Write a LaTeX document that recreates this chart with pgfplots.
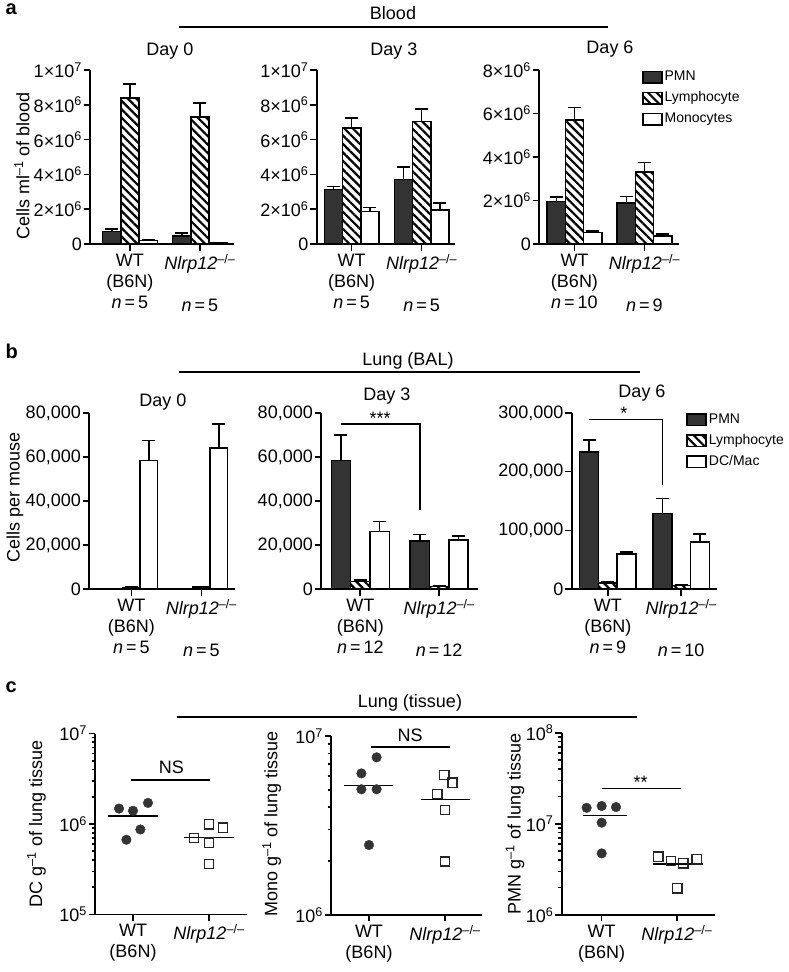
\documentclass[border=0pt]{standalone}
\usepackage{fontspec}
\setmainfont{Liberation Sans}
\usepackage{pgfplots}
\pgfplotsset{compat=1.18}
\usetikzlibrary{patterns.meta}

\newcommand{\fs}{\fontsize{18}{21}\selectfont}
\newcommand{\ko}{\textit{Nlrp12}\textsuperscript{–/–}}
\newcommand{\tx}[2]{#1\texttimes10\textsuperscript{#2}}
\newcommand{\tp}[1]{10\textsuperscript{#1}}

\pgfplotsset{
  gp/.style={
    scale only axis, clip=false, anchor=south west,
    axis x line*=bottom, axis y line*=left,
    axis line style={line width=1.8pt},
    tick align=outside, major tick length=6.5pt, minor tick length=3.5pt,
    tick style={line width=1.6pt, black},
    tick label style={font=\fs},
    yticklabel style={inner sep=1.5pt},
    xticklabel style={align=center},
    scaled ticks=false, xtick={0,1},
  },
  pmn/.style={ybar, bar shift=0pt, bar width=#1, draw=black, line width=1.5pt, fill=black!80},
  lym/.style={ybar, bar shift=0pt, bar width=#1, draw=black, line width=1.5pt,
    pattern={Lines[angle=-45,distance=6pt,line width=2.2pt]}},
  mon/.style={ybar, bar shift=0pt, bar width=#1, draw=black, line width=1.5pt, fill=white},
  eb/.style={error bars/y dir=plus, error bars/y explicit,
    error bars/error bar style={line width=1.5pt, black},
    error bars/error mark options={rotate=90, line width=1.5pt, black, mark size=6.5pt}},
  boxleg/.style={legend image code/.code={\draw[##1] (0pt,-5.8pt) rectangle (19pt,5.8pt);},
    legend style={draw=none, fill=none, anchor=north west, row sep=3.5pt, inner sep=0pt,
      nodes={inner sep=2pt, font=\fontsize{14}{16}\selectfont, text height=10.5pt, text depth=3pt}},
    legend cell align=left},
  wt/.style={only marks, mark=*, mark size=4.8pt, mark options={fill=black!80, draw=black!80}},
  kos/.style={only marks, mark=square, mark size=4.6pt, mark options={line width=1.4pt, draw=black!85, fill=white}},
  mline/.style={black, line width=1.6pt, forget plot},
}

\begin{document}
\begin{tikzpicture}
\useasboundingbox (0pt,0pt) rectangle (788pt,-972pt);

% ---------------- panel a: blood ----------------
\begin{axis}[gp, at={(90pt,-244pt)}, width=144pt, height=174pt,
  xmin=-0.571, xmax=1.486, ymin=0, ymax=1e7,
  ytick={0,2e6,4e6,6e6,8e6,1e7},
  yticklabels={0,\tx{2}{6},\tx{4}{6},\tx{6}{6},\tx{8}{6},\tx{1}{7}},
  xticklabels={WT\\(B6N)\\\textit{n}\,=\,5, \ko\\\strut\\\textit{n}\,=\,5}]
\addplot[pmn=0.26, eb] table[x=x,y=y,y error=e]{
x y e
-0.26 0.71e6 0.16e6
0.74 0.46e6 0.18e6
};
\addplot[lym=0.26, eb] table[x=x,y=y,y error=e]{
x y e
0 8.4e6 0.79e6
1 7.3e6 0.79e6
};
\addplot[mon=0.26, eb] table[x=x,y=y,y error=e]{
x y e
0.26 0.19e6 0.06e6
1.26 0.08e6 0.0
};
\end{axis}

\begin{axis}[gp, at={(316.7pt,-244pt)}, width=138.3pt, height=174pt,
  xmin=-0.5, xmax=1.476, ymin=0, ymax=1e7,
  ytick={0,2e6,4e6,6e6,8e6,1e7},
  yticklabels={0,\tx{2}{6},\tx{4}{6},\tx{6}{6},\tx{8}{6},\tx{1}{7}},
  xticklabels={WT\\(B6N)\\\textit{n}\,=\,5, \ko\\\strut\\\textit{n}\,=\,5}]
\addplot[pmn=0.26, eb] table[x=x,y=y,y error=e]{
x y e
-0.26 3.14e6 0.16e6
0.74 3.71e6 0.71e6
};
\addplot[lym=0.26, eb] table[x=x,y=y,y error=e]{
x y e
0 6.67e6 0.57e6
1 7.05e6 0.72e6
};
\addplot[mon=0.26, eb] table[x=x,y=y,y error=e]{
x y e
0.26 1.87e6 0.23e6
1.26 1.96e6 0.40e6
};
\end{axis}

\begin{axis}[gp, boxleg, at={(539pt,-244pt)}, width=140pt, height=174pt,
  xmin=-0.507, xmax=1.493, ymin=0, ymax=8e6,
  ytick={0,2e6,4e6,6e6,8e6},
  yticklabels={0,\tx{2}{6},\tx{4}{6},\tx{6}{6},\tx{8}{6}},
  xticklabels={WT\\(B6N)\\\textit{n}\,=\,10, \ko\\\strut\\\textit{n}\,=\,9},
  legend style={at={(0.735,1.01)}}]
\addplot[pmn=0.26, eb] table[x=x,y=y,y error=e]{
x y e
-0.26 1.95e6 0.20e6
0.74 1.89e6 0.30e6
};
\addlegendentry{PMN}
\addplot[lym=0.26, eb] table[x=x,y=y,y error=e]{
x y e
0 5.70e6 0.58e6
1 3.32e6 0.43e6
};
\addlegendentry{Lymphocyte}
\addplot[mon=0.26, eb] table[x=x,y=y,y error=e]{
x y e
0.26 0.54e6 0.06e6
1.26 0.375e6 0.075e6
};
\addlegendentry{Monocytes}
\end{axis}

% ---------------- panel b: lung BAL ----------------
\begin{axis}[gp, at={(89pt,-589pt)}, width=146pt, height=176pt,
  xmin=-0.607, xmax=1.479, ymin=0, ymax=80000,
  ytick={0,20000,40000,60000,80000},
  yticklabels={0,{20,000},{40,000},{60,000},{80,000}},
  xticklabels={WT\\(B6N)\\\textit{n}\,=\,5, \ko\\\strut\\\textit{n}\,=\,5}]
\addplot[pmn=0.25, eb] table[x=x,y=y,y error=e]{
x y e
-0.25 300 0
0.75 300 0
};
\addplot[lym=0.25, eb] table[x=x,y=y,y error=e]{
x y e
0 700 100
1 900 200
};
\addplot[mon=0.25, eb] table[x=x,y=y,y error=e]{
x y e
0.25 58400 9200
1.25 64000 11000
};
\end{axis}

\begin{axis}[gp, at={(321pt,-589pt)}, width=157.3pt, height=176pt,
  xmin=-0.498, xmax=1.496, ymin=0, ymax=80000,
  ytick={0,20000,40000,60000,80000},
  yticklabels={0,{20,000},{40,000},{60,000},{80,000}},
  xticklabels={WT\\(B6N)\\\textit{n}\,=\,12, \ko\\\strut\\\textit{n}\,=\,12}]
\addplot[pmn=0.245, eb] table[x=x,y=y,y error=e]{
x y e
-0.245 58500 11500
0.755 21750 3100
};
\addplot[lym=0.245, eb] table[x=x,y=y,y error=e]{
x y e
0 3300 800
1 1100 300
};
\addplot[mon=0.245, eb] table[x=x,y=y,y error=e]{
x y e
0.245 26100 4500
1.245 22200 1900
};
\addplot[mline] coordinates {(-0.245,74900) (0.755,74900) (0.755,35700)};
\node[font=\fs, anchor=base] at (axis cs:0.25,74900) {***};
\end{axis}

\begin{axis}[gp, boxleg, at={(571.7pt,-589pt)}, width=145pt, height=176pt,
  xmin=-0.492, xmax=1.484, ymin=0, ymax=300000,
  ytick={0,100000,200000,300000},
  yticklabels={0,{100,000},{200,000},{300,000}},
  xticklabels={WT\\(B6N)\\\textit{n}\,=\,9, \ko\\\strut\\\textit{n}\,=\,10},
  legend style={at={(0.79,1.012)}}]
\addplot[pmn=0.255, eb] table[x=x,y=y,y error=e]{
x y e
-0.255 233900 20500
0.745 128900 25700
};
\addlegendentry{PMN}
\addplot[lym=0.255, eb] table[x=x,y=y,y error=e]{
x y e
0 10300 1700
1 5700 1700
};
\addlegendentry{Lymphocyte}
\addplot[mon=0.255, eb] table[x=x,y=y,y error=e]{
x y e
0.255 59900 3400
1.255 79900 13700
};
\addlegendentry{DC/Mac}
\addplot[mline] coordinates {(-0.255,288600) (0.745,288600) (0.745,177400)};
\node[font=\fs, anchor=base] at (axis cs:0.22,288600) {*};
\end{axis}

% ---------------- panel c: lung tissue ----------------
\begin{axis}[gp, at={(95pt,-914.5pt)}, width=151.7pt, height=181pt,
  ymode=log, xmin=-0.5, xmax=1.496, ymin=1e5, ymax=1e7,
  ytick={1e5,1e6,1e7}, yticklabels={\tp{5},\tp{6},\tp{7}},
  minor ytick={2e5,3e5,4e5,5e5,6e5,7e5,8e5,9e5,2e6,3e6,4e6,5e6,6e6,7e6,8e6,9e6},
  xticklabels={WT\\(B6N), \ko}]
\addplot[wt] coordinates {(-0.184,1.48e6) (0,1.40e6) (0.197,1.71e6) (0.097,0.87e6) (-0.087,0.67e6)};
\addplot[kos] coordinates {(1.0,0.995e6) (1.184,0.91e6) (0.803,0.70e6) (1.0,0.62e6) (1.0,0.36e6)};
\addplot[mline] coordinates {(-0.33,1.22e6) (0.33,1.22e6)};
\addplot[mline] coordinates {(0.67,0.71e6) (1.33,0.71e6)};
\addplot[mline] coordinates {(-0.02,3.05e6) (1.01,3.05e6)};
\node[font=\fs, anchor=base] at (axis cs:0.505,3.64e6) {NS};
\end{axis}

\begin{axis}[gp, at={(331pt,-915pt)}, width=151pt, height=179pt,
  ymode=log, xmin=-0.5, xmax=1.487, ymin=1e6, ymax=1e7,
  ytick={1e6,1e7}, yticklabels={\tp{6},\tp{7}},
  minor ytick={2e6,3e6,4e6,5e6,6e6,7e6,8e6,9e6},
  xticklabels={WT\\(B6N), \ko}]
\addplot[wt] coordinates {(0.10,7.6e6) (-0.10,6.18e6) (-0.10,5.04e6) (0.10,5.04e6) (0,2.46e6)};
\addplot[kos] coordinates {(0.99,6.05e6) (1.10,5.48e6) (0.90,4.74e6) (1.0,3.86e6) (1.0,1.99e6)};
\addplot[mline] coordinates {(-0.325,5.28e6) (0.32,5.28e6)};
\addplot[mline] coordinates {(0.68,4.42e6) (1.33,4.42e6)};
\addplot[mline] coordinates {(0.03,8.7e6) (1.07,8.7e6)};
\node[font=\fs, anchor=base] at (axis cs:0.54,9.33e6) {NS};
\end{axis}

\begin{axis}[gp, at={(561.7pt,-915pt)}, width=153.3pt, height=182.3pt,
  ymode=log, xmin=-0.531, xmax=1.505, ymin=1e6, ymax=1e8,
  ytick={1e6,1e7,1e8}, yticklabels={\tp{6},\tp{7},\tp{8}},
  minor ytick={2e6,3e6,4e6,5e6,6e6,7e6,8e6,9e6,2e7,3e7,4e7,5e7,6e7,7e7,8e7,9e7},
  xticklabels={WT\\(B6N), \ko}]
\addplot[wt] coordinates {(-0.2,15.0e6) (0,15.7e6) (0.19,15.3e6) (0,10.3e6) (0,4.74e6)};
\addplot[kos] coordinates {(0.752,4.36e6) (0.92,3.91e6) (1.084,3.69e6) (1.261,4.08e6) (1.004,1.96e6)};
\addplot[mline] coordinates {(-0.243,12.3e6) (0.332,12.3e6)};
\addplot[mline] coordinates {(0.677,3.62e6) (1.341,3.62e6)};
\addplot[mline] coordinates {(0.0,24.5e6) (1.053,24.5e6)};
\node[font=\fs, anchor=base] at (axis cs:0.518,2.43e7) {**};
\end{axis}

% ---------------- titles, group lines, axis labels ----------------
\begin{scope}[every node/.style={font=\fs}]
\node[anchor=base west, font=\bfseries\fontsize{20}{20}\selectfont] at (2pt,-14pt) {a};
\node[anchor=base west, font=\bfseries\fontsize{20}{20}\selectfont] at (2pt,-358pt) {b};
\node[anchor=base west, font=\bfseries\fontsize{20}{20}\selectfont] at (2pt,-692pt) {c};

\node[anchor=base] at (393pt,-19.3pt) {Blood};
\draw[line width=2pt] (179pt,-27.3pt) -- (608pt,-27.3pt);
\node[anchor=base] at (170pt,-55pt) {Day 0};
\node[anchor=base] at (394pt,-55pt) {Day 3};
\node[anchor=base] at (610pt,-53pt) {Day 6};
\node[rotate=90] at (22pt,-166pt) {Cells ml\textsuperscript{–1} of blood};

\node[anchor=base] at (408pt,-365pt) {Lung (BAL)};
\draw[line width=2pt] (179pt,-371.7pt) -- (640pt,-371.7pt);
\node[anchor=base] at (163pt,-406pt) {Day 0};
\node[anchor=base] at (387pt,-400pt) {Day 3};
\node[anchor=base] at (642pt,-397pt) {Day 6};
\node[rotate=90] at (15pt,-497pt) {Cells per mouse};

\node[anchor=base] at (410pt,-707pt) {Lung (tissue)};
\draw[line width=2pt] (176.7pt,-716.7pt) -- (636.7pt,-716.7pt);
\node[rotate=90] at (36.5pt,-824pt) {DC g\textsuperscript{–1} of lung tissue};
\node[rotate=90] at (271.7pt,-824pt) {Mono g\textsuperscript{–1} of lung tissue};
\node[rotate=90] at (515pt,-824pt) {PMN g\textsuperscript{–1} of lung tissue};
\end{scope}
\end{tikzpicture}
\end{document}
